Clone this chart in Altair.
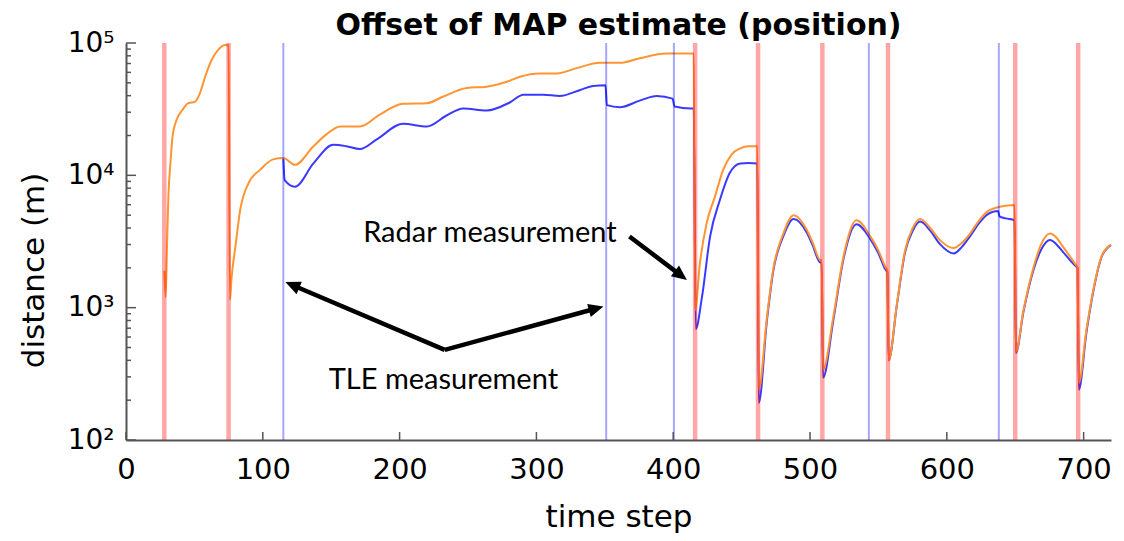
import math
import altair as alt
import pandas as pd

# ---------------- data ----------------
orange_t = [28, 29, 30, 31, 32.5, 34, 37, 41, 45.5, 50.5, 54, 58, 62.5, 67.5, 72.5, 75, 76, 77, 80,
            83.5, 89.5, 98, 107.5, 115, 123.5, 137, 146.5, 156.5, 171, 185.5, 202.5, 220, 232, 249,
            263.5, 280.5, 288, 302.5, 315, 329.5, 346.5, 361, 375.5, 395, 413.5, 415, 416,
            419.5, 424.5, 430.5, 436.5, 442.5, 449, 455, 461.5, 462.5,
            468.5, 473, 480.5, 488, 497.5, 502, 507.5, 508.5, 509.5,
            517, 524.5, 534, 544, 550, 555, 556.5, 557.5,
            563.5, 569.5, 575, 580.5, 588, 595, 605, 611, 617, 623, 629, 637.5, 643, 649.5, 650.5,
            656, 663.5, 669, 675.5, 680, 685, 693.5, 695.5, 696.5,
            702, 707, 713, 719, 720]
orange_v = [1900, 1200, 3000, 7000, 12500, 19500, 26300, 30900, 35100, 36000, 41700, 56200, 74100, 89100, 96600, 96000, 1150, 1600, 2900,
            5500, 8700, 11000, 13200, 13500, 12000, 16600, 20400, 23400, 23400, 28800, 34700, 35100, 39400, 45700,
            46800, 51900, 55600, 58900, 58900, 64600, 70800, 70800, 76700, 83200, 83200, 83000, 960,
            2160, 4370, 6900, 11000, 14300, 16000, 16600, 16600, 240,
            850, 1930, 3630, 5000, 3890, 3090, 2290, 2290, 340,
            850, 2450, 4570, 3470, 2700, 2040, 1900, 400,
            1070, 2720, 3980, 4680, 3980, 3240, 2820, 3090, 3630, 4470, 5250, 5750, 5890, 5960, 465,
            955, 2040, 3020, 3630, 3390, 2880, 2160, 2000, 270,
            676, 1350, 2430, 2950, 3000]

blue_t = [115, 116, 123.5, 137, 151.5, 161, 171, 183, 202.5, 220, 234, 246.5, 263.5, 280.5, 290.5,
          305, 317, 332, 341.5, 350.5, 351.5, 361, 375.5, 388, 399.5, 401, 413, 415, 416.5,
          421, 427, 434, 441.5, 449, 455, 461.5, 462.5,
          468.5, 473, 480.5, 488, 497.5, 502, 507.5, 508.5, 509.5,
          517, 524.5, 534, 544, 550, 555, 556.5, 557.5,
          563.5, 569.5, 575, 580.5, 588, 595, 605, 611, 617, 623, 629, 637.5, 638.5, 643, 649.5, 650.5,
          656, 663.5, 669, 675.5, 680, 685, 693.5, 695.5, 696.5,
          702, 707, 713, 719, 720]
blue_v = [13500, 9200, 8200, 12300, 17000, 16600, 15800, 18600, 24500, 23400, 28200, 32000, 30900, 35500, 40700,
          40700, 39800, 44200, 47300, 47900, 33900, 32700, 36700, 39800, 38000, 33100, 32000, 32000, 690,
          1200, 3470, 6460, 10500, 12300, 12400, 12300, 190,
          800, 1860, 3470, 4680, 3720, 2950, 2190, 2190, 295,
          800, 2340, 4270, 3310, 2570, 1950, 1850, 400,
          1050, 2630, 3800, 4470, 3800, 3020, 2570, 2880, 3470, 4270, 5010, 5370, 4900, 4730, 4570, 455,
          930, 1950, 2750, 3240, 3020, 2630, 2090, 2000, 240,
          645, 1320, 2400, 2920, 2980]

radar_steps = [28, 75, 416, 462, 509, 557, 650, 696]
tle_steps = [115, 351, 400.5, 543, 638]

x_ticks = [0, 100, 200, 300, 400, 500, 600, 700]
y_major = [100, 1000, 10000, 100000]
y_minor = [k * 10 ** e for e in (2, 3, 4) for k in range(2, 10)]

arrow_start_t = [368, 233, 233]
arrow_start_v = [3450, 480, 480]
arrow_tip_t = [410, 116.5, 349]
arrow_tip_v = [1620, 1560, 1020]

label_text = ["Radar measurement", "TLE measurement"]
label_t = [266, 232]
label_v = [3670, 284]

# ---------------- layout ----------------
W, H = 985, 397
X_DOMAIN = [0, 720]
Y_DOMAIN = [100, 100000]
HEAD_SIZE = 900
HEAD_LEN = math.sqrt(HEAD_SIZE) / 2.0


def to_px(t, v):
    px = (t - X_DOMAIN[0]) / (X_DOMAIN[1] - X_DOMAIN[0]) * W
    py = H * (1 - (math.log10(v) - math.log10(Y_DOMAIN[0])) /
              (math.log10(Y_DOMAIN[1]) - math.log10(Y_DOMAIN[0])))
    return px, py


def to_data(px, py):
    t = X_DOMAIN[0] + px / W * (X_DOMAIN[1] - X_DOMAIN[0])
    lv = math.log10(Y_DOMAIN[0]) + (1 - py / H) * (math.log10(Y_DOMAIN[1]) - math.log10(Y_DOMAIN[0]))
    return t, 10 ** lv


rows_line, rows_head = [], []
for st, sv, tt, tv in zip(arrow_start_t, arrow_start_v, arrow_tip_t, arrow_tip_v):
    x0, y0 = to_px(st, sv)
    x1, y1 = to_px(tt, tv)
    dx, dy = x1 - x0, y1 - y0
    d = math.hypot(dx, dy)
    ux, uy = dx / d, dy / d
    bx, by = x1 - ux * HEAD_LEN * 0.7, y1 - uy * HEAD_LEN * 0.7
    bt, bv = to_data(bx, by)
    rows_line.append({"t": st, "v": sv, "t2": bt, "v2": bv})
    ang = math.degrees(math.atan2(dx, -dy)) % 360
    rows_head.append({"t": tt, "v": tv, "ang": ang})

df_orange = pd.DataFrame({"t": orange_t, "v": orange_v})
df_blue = pd.DataFrame({"t": blue_t, "v": blue_v})
df_radar = pd.DataFrame({"t": radar_steps})
df_tle = pd.DataFrame({"t": tle_steps})
df_xt = pd.DataFrame({"t": x_ticks})
df_ymaj = pd.DataFrame({"v": y_major})
df_ymin = pd.DataFrame({"v": y_minor})
df_arr = pd.DataFrame(rows_line)
df_head = pd.DataFrame(rows_head)
df_lab = pd.DataFrame({"t": label_t, "v": label_v, "txt": label_text})

AX_COLOR = "#555555"
x_axis = alt.Axis(values=x_ticks, ticks=False, tickSize=0, grid=False,
                  domainColor=AX_COLOR, domainWidth=2,
                  labelFont="DejaVu Sans", labelFontSize=29, labelColor="black",
                  labelPadding=15, labelFlush=False, labelOverlap=False,
                  titleFont="DejaVu Sans", titleFontSize=31, titleFontWeight="normal",
                  titleColor="black", titleY=77, titleBaseline="middle")
y_axis = alt.Axis(values=y_major, ticks=False, tickSize=0, grid=False,
                  labelExpr="'10' + ['\u2070','\u00b9','\u00b2','\u00b3','\u2074','\u2075'][round(log(datum.value)/LN10)]",
                  domainColor=AX_COLOR, domainWidth=2,
                  labelFont="DejaVu Sans", labelFontSize=28, labelColor="black",
                  labelPadding=12, labelOverlap=False,
                  titleFont="DejaVu Sans", titleFontSize=31, titleFontWeight="normal",
                  titleColor="black", titleAngle=270, titleX=-92, titleY=227,
                  titleAlign="center", titleBaseline="middle")

x_enc = alt.X("t:Q", scale=alt.Scale(domain=X_DOMAIN, nice=False, zero=False), axis=x_axis, title="time step")
y_enc = alt.Y("v:Q", scale=alt.Scale(type="log", domain=Y_DOMAIN, nice=False), axis=y_axis, title="distance (m)")

blue_line = alt.Chart(df_blue).mark_line(color="#3a3aff", strokeWidth=2, interpolate="monotone").encode(x=x_enc, y=y_enc)
orange_line = alt.Chart(df_orange).mark_line(color="#ff9433", strokeWidth=2, interpolate="monotone").encode(x=x_enc, y=y_enc)

radar_rules = alt.Chart(df_radar).mark_rule(color="#ff0000", opacity=0.35, strokeWidth=4.5).encode(x=x_enc)
tle_rules = alt.Chart(df_tle).mark_rule(color="#0000ff", opacity=0.35, strokeWidth=2).encode(x=x_enc)

x_tick_marks = alt.Chart(df_xt).mark_rule(color=AX_COLOR, strokeWidth=1.5).encode(
    x=x_enc, y=alt.value(H - 8), y2=alt.value(H))
y_major_marks = alt.Chart(df_ymaj).mark_rule(color=AX_COLOR, strokeWidth=1.5).encode(
    y=y_enc, x=alt.value(0), x2=alt.value(10))
y_minor_marks = alt.Chart(df_ymin).mark_rule(color=AX_COLOR, strokeWidth=1.5).encode(
    y=y_enc, x=alt.value(0), x2=alt.value(5))

arrow_lines = alt.Chart(df_arr).mark_rule(color="black", strokeWidth=4.5).encode(
    x=x_enc, y=y_enc, x2="t2:Q", y2="v2:Q")
arrow_heads = alt.Chart(df_head).mark_point(
    shape="M0,0L-0.45,1L0.45,1Z", filled=True, color="black", opacity=1, size=HEAD_SIZE, strokeWidth=0
).encode(x=x_enc, y=y_enc, angle=alt.Angle("ang:Q", scale=None))

labels = alt.Chart(df_lab).mark_text(font="Lato", fontSize=29, color="black", align="center", baseline="middle").encode(
    x=x_enc, y=y_enc, text="txt:N")

chart = alt.layer(
    blue_line, orange_line, radar_rules, tle_rules,
    x_tick_marks, y_major_marks, y_minor_marks,
    arrow_lines, arrow_heads, labels
).properties(
    width=W, height=H,
    title=alt.TitleParams("Offset of MAP estimate (position)", font="DejaVu Sans", fontSize=30,
                          fontWeight="bold", color="black", anchor="middle", offset=0, dy=12),
    autosize=alt.AutoSizeParams(type="none"),
    padding={"left": 118, "top": 35, "right": 5, "bottom": 100},
    background="white",
).configure_view(stroke=None)

chart.save("out.html", embed_options={"renderer": "svg", "actions": False})
